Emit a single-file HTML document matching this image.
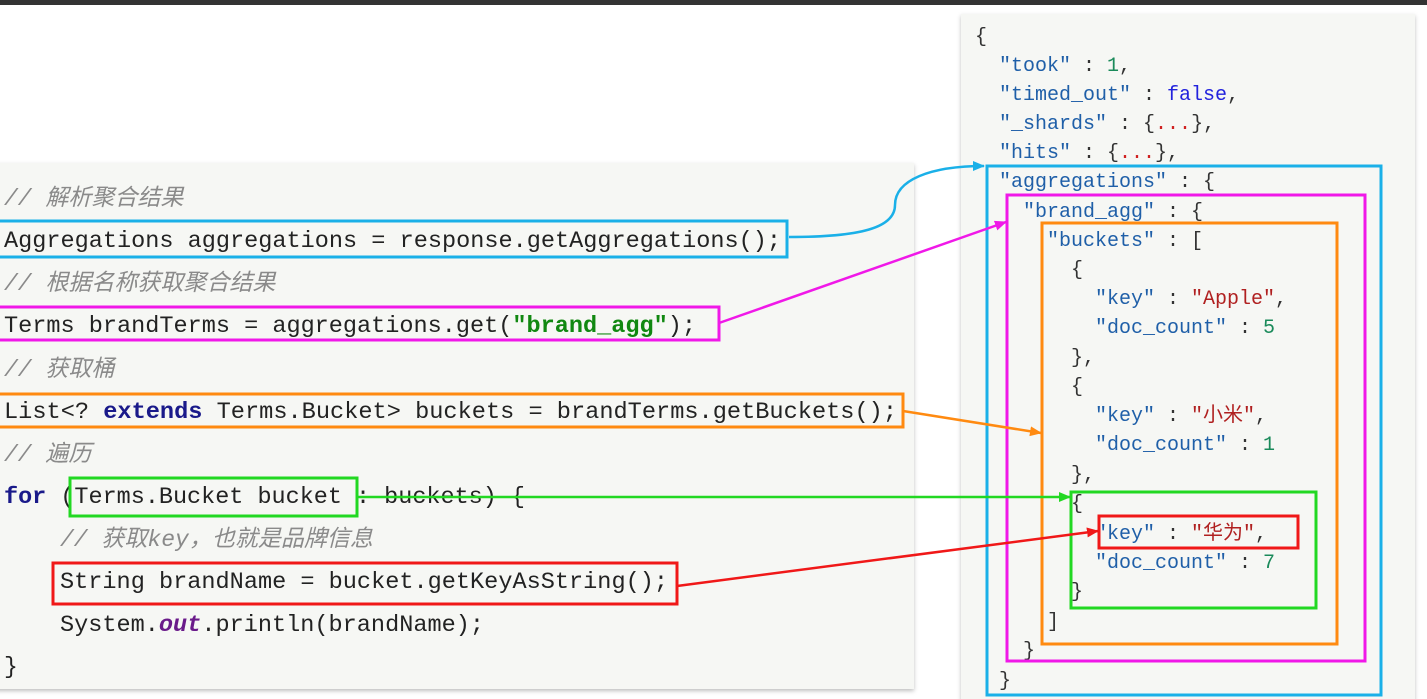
<!DOCTYPE html>
<html><head><meta charset="utf-8"><style>
html,body{margin:0;padding:0;background:#fff;}
svg{display:block;}
</style></head><body>
<svg width="1427" height="699" xmlns="http://www.w3.org/2000/svg">
<defs>
<filter id="sh" x="-5%" y="-5%" width="110%" height="110%"><feDropShadow dx="0" dy="2" stdDeviation="2" flood-color="#000" flood-opacity="0.25"/></filter>
<marker id="mb" markerWidth="12" markerHeight="12" refX="11" refY="6" orient="auto" markerUnits="userSpaceOnUse"><path d="M0,1 L12,6 L0,11 z" fill="#1ab0e8"/></marker>
<marker id="mm" markerWidth="12" markerHeight="12" refX="11" refY="6" orient="auto" markerUnits="userSpaceOnUse"><path d="M0,1 L12,6 L0,11 z" fill="#f018e8"/></marker>
<marker id="mo" markerWidth="12" markerHeight="12" refX="11" refY="6" orient="auto" markerUnits="userSpaceOnUse"><path d="M0,1 L12,6 L0,11 z" fill="#ff8a10"/></marker>
<marker id="mg" markerWidth="12" markerHeight="12" refX="11" refY="6" orient="auto" markerUnits="userSpaceOnUse"><path d="M0,1 L12,6 L0,11 z" fill="#22d822"/></marker>
<marker id="mr" markerWidth="12" markerHeight="12" refX="11" refY="6" orient="auto" markerUnits="userSpaceOnUse"><path d="M0,1 L12,6 L0,11 z" fill="#f01818"/></marker>
</defs>
<rect x="0" y="0" width="1427" height="5" fill="#333"/>
<rect x="-5" y="163" width="919" height="526" fill="#f6f7f4" filter="url(#sh)"/>
<rect x="961" y="14" width="454" height="690" fill="#f6f7f4" filter="url(#sh)"/>

<g font-family="Liberation Mono, 'Noto Sans CJK SC', monospace" font-size="23" fill="#222">
<text x="4" y="205" fill="#8a8a8a" font-style="italic" font-size="23">// 解析聚合结果</text>
<text x="4" y="247" textLength="777" lengthAdjust="spacingAndGlyphs">Aggregations aggregations = response.getAggregations();</text>
<text x="4" y="290" fill="#8a8a8a" font-style="italic" font-size="23">// 根据名称获取聚合结果</text>
<text x="4" y="332" textLength="692" lengthAdjust="spacingAndGlyphs">Terms brandTerms = aggregations.get(<tspan fill="#118811" font-weight="bold">"brand_agg"</tspan>);</text>
<text x="4" y="376" fill="#8a8a8a" font-style="italic" font-size="23">// 获取桶</text>
<text x="4" y="418" textLength="893" lengthAdjust="spacingAndGlyphs">List&lt;? <tspan fill="#1a1a8a" font-weight="bold">extends</tspan> Terms.Bucket&gt; buckets = brandTerms.getBuckets();</text>
<text x="4" y="461" fill="#8a8a8a" font-style="italic" font-size="23">// 遍历</text>
<text x="4" y="503" textLength="521" lengthAdjust="spacingAndGlyphs"><tspan fill="#1a1a8a" font-weight="bold">for</tspan> (Terms.Bucket bucket : buckets) {</text>
<text x="60" y="546" fill="#8a8a8a" font-style="italic" font-size="23">// 获取key，也就是品牌信息</text>
<text x="60" y="588" textLength="608" lengthAdjust="spacingAndGlyphs">String brandName = bucket.getKeyAsString();</text>
<text x="60" y="631" textLength="424" lengthAdjust="spacingAndGlyphs">System.<tspan fill="#6a1a8a" font-weight="bold" font-style="italic">out</tspan>.println(brandName);</text>
<text x="4" y="673">}</text>
</g>

<g font-family="Liberation Mono, 'Noto Sans CJK SC', monospace" font-size="20" fill="#333">
<text x="975" y="42">{</text>
<text x="999" y="71"><tspan fill="#1f5fa8">"took"</tspan> : <tspan fill="#1a8a5a">1</tspan>,</text>
<text x="999" y="100"><tspan fill="#1f5fa8">"timed_out"</tspan> : <tspan fill="#2222dd">false</tspan>,</text>
<text x="999" y="129"><tspan fill="#1f5fa8">"_shards"</tspan> : {<tspan fill="#d02020">...</tspan>},</text>
<text x="999" y="158"><tspan fill="#1f5fa8">"hits"</tspan> : {<tspan fill="#d02020">...</tspan>},</text>
<text x="999" y="187"><tspan fill="#1f5fa8">"aggregations"</tspan> : {</text>
<text x="1023" y="217"><tspan fill="#1f5fa8">"brand_agg"</tspan> : {</text>
<text x="1047" y="246"><tspan fill="#1f5fa8">"buckets"</tspan> : [</text>
<text x="1071" y="275">{</text>
<text x="1095" y="304"><tspan fill="#1f5fa8">"key"</tspan> : <tspan fill="#b02020">"Apple"</tspan>,</text>
<text x="1095" y="333"><tspan fill="#1f5fa8">"doc_count"</tspan> : <tspan fill="#1a8a5a">5</tspan></text>
<text x="1071" y="363">},</text>
<text x="1071" y="392">{</text>
<text x="1095" y="421"><tspan fill="#1f5fa8">"key"</tspan> : <tspan fill="#b02020">"小米"</tspan>,</text>
<text x="1095" y="450"><tspan fill="#1f5fa8">"doc_count"</tspan> : <tspan fill="#1a8a5a">1</tspan></text>
<text x="1071" y="480">},</text>
<text x="1071" y="509">{</text>
<text x="1095" y="539"><tspan fill="#1f5fa8">"key"</tspan> : <tspan fill="#b02020">"华为"</tspan>,</text>
<text x="1095" y="568"><tspan fill="#1f5fa8">"doc_count"</tspan> : <tspan fill="#1a8a5a">7</tspan></text>
<text x="1071" y="597">}</text>
<text x="1047" y="627">]</text>
<text x="1023" y="656">}</text>
<text x="999" y="686">}</text>
</g>

<g fill="none" stroke-width="3">
<rect x="-2" y="221" width="789" height="36" stroke="#1ab0e8"/>
<rect x="-2" y="307" width="721" height="33" stroke="#f018e8"/>
<rect x="-2" y="394" width="905" height="33" stroke="#ff8a10"/>
<rect x="70" y="478" width="287" height="38" stroke="#22d822"/>
<rect x="53" y="563" width="624" height="41" stroke="#f01818"/>
<rect x="987" y="166" width="394" height="529" stroke="#1ab0e8"/>
<rect x="1007" y="195" width="358" height="466" stroke="#f018e8"/>
<rect x="1042" y="223" width="295" height="421" stroke="#ff8a10"/>
<rect x="1071" y="492" width="245" height="116" stroke="#22d822"/>
<rect x="1099" y="516" width="199" height="32" stroke="#f01818"/>
</g>
<g fill="none" stroke-width="2.5">
<path d="M789,237 C860,237 895,228 895,205 C895,180 930,166 984,166" stroke="#1ab0e8" marker-end="url(#mb)"/>
<path d="M719,323 L1006,222" stroke="#f018e8" marker-end="url(#mm)"/>
<path d="M903,411 L1041,433" stroke="#ff8a10" marker-end="url(#mo)"/>
<path d="M357,497 L1070,497" stroke="#22d822" marker-end="url(#mg)"/>
<path d="M677,586 L1098,531" stroke="#f01818" marker-end="url(#mr)"/>
</g>
</svg>
</body></html>
